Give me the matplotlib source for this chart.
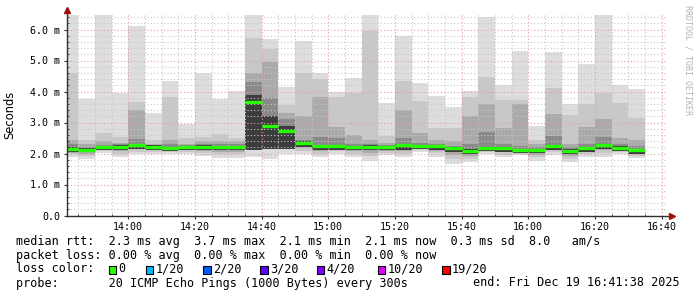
import matplotlib
matplotlib.use('Agg')
import matplotlib.pyplot as plt
import matplotlib.dates as mdates
import numpy as np
import pandas as pd
from matplotlib.patches import Rectangle

# 5 minute smokeping rounds, 13:40 .. 16:30
bar_start = pd.date_range('2025-12-19 13:40', periods=35, freq='5min')

# values in ms
hi = [6.47, 3.77, 6.47, 3.96, 6.11, 3.30, 4.35, 2.94, 4.59, 3.77, 4.03, 6.47, 5.69, 4.14, 5.63, 4.59, 3.99, 4.42,
      6.47, 3.62, 5.79, 4.29, 3.86, 3.51, 4.03, 6.39, 4.20, 5.32, 2.89, 5.29, 3.59, 4.88, 6.47, 4.20, 4.07]
u1 = [4.59, 2.44, 2.65, 2.54, 3.66, 2.42, 3.83, 2.49, 2.54, 2.63, 2.49, 5.71, 5.36, 3.57, 4.59, 4.39, 3.81, 3.96,
      5.96, 2.56, 4.35, 3.70, 2.81, 2.81, 3.81, 4.46, 3.74, 3.72, 2.44, 4.10, 3.24, 3.59, 3.94, 3.64, 3.13]
u2 = [2.44, 2.30, 2.40, 2.35, 3.40, 2.32, 2.45, 2.30, 2.40, 2.40, 2.40, 4.59, 4.96, 3.30, 3.21, 3.81, 2.84, 2.60,
      2.44, 2.35, 3.40, 2.65, 2.45, 2.40, 3.21, 3.59, 2.81, 3.59, 2.30, 3.27, 2.30, 2.84, 3.12, 2.49, 2.44]
u3 = [2.30, 2.20, 2.28, 2.30, 2.47, 2.26, 2.30, 2.26, 2.30, 2.30, 2.30, 4.32, 3.78, 3.10, 2.44, 2.54, 2.49, 2.30,
      2.30, 2.28, 2.50, 2.35, 2.30, 2.25, 2.30, 2.70, 2.30, 2.25, 2.20, 2.56, 2.20, 2.30, 2.54, 2.30, 2.25]
core_hi = [2.20, 2.17, 2.24, 2.27, 2.31, 2.26, 2.22, 2.24, 2.26, 2.24, 2.24, 3.90, 3.20, 2.90, 2.39, 2.28, 2.27, 2.24,
           2.26, 2.24, 2.30, 2.28, 2.28, 2.22, 2.14, 2.22, 2.21, 2.15, 2.15, 2.27, 2.13, 2.22, 2.32, 2.23, 2.14]
core_lo = [2.05, 2.05, 2.10, 2.12, 2.15, 2.12, 2.08, 2.10, 2.10, 2.10, 2.10, 2.10, 2.15, 2.15, 2.20, 2.12, 2.12, 2.10,
           2.10, 2.10, 2.12, 2.14, 2.12, 2.06, 1.98, 2.08, 2.06, 2.02, 2.02, 2.10, 1.98, 2.06, 2.14, 2.08, 2.00]
med = [2.14, 2.12, 2.20, 2.22, 2.26, 2.22, 2.17, 2.20, 2.21, 2.20, 2.20, 3.65, 2.89, 2.72, 2.35, 2.23, 2.23, 2.20,
       2.22, 2.20, 2.26, 2.24, 2.24, 2.18, 2.09, 2.18, 2.17, 2.11, 2.11, 2.23, 2.09, 2.18, 2.28, 2.19, 2.10]
lo = [1.90, 1.82, 2.01, 1.90, 1.98, 1.98, 1.98, 1.98, 1.93, 1.87, 1.87, 1.90, 1.81, 2.00, 1.98, 1.88, 2.00, 1.90,
      1.77, 1.95, 1.88, 2.06, 1.90, 1.66, 1.73, 2.00, 1.88, 1.95, 1.77, 1.95, 1.73, 1.90, 1.90, 1.98, 1.84]

yticks = [0, 1, 2, 3, 4, 5, 6]
ytick_labels = ['0.0', '1.0 m', '2.0 m', '3.0 m', '4.0 m', '5.0 m', '6.0 m']
xtick_labels = ['14:00', '14:20', '14:40', '15:00', '15:20', '15:40', '16:00', '16:20', '16:40']

loss_labels = ['0', '1/20', '2/20', '3/20', '4/20', '10/20', '19/20']
loss_colors = ['#26ff00', '#00b8ff', '#0059ff', '#5e00ff', '#7e00ff', '#dd00ff', '#ff0000']

W, H = 697, 297
mono = 'DejaVu Sans Mono'

fig = plt.figure(figsize=(W / 100, H / 100), dpi=100)
fig.patch.set_facecolor('white')
ax = fig.add_axes([67 / W, (H - 215.5) / H, 600 / W, 201.5 / H])

x = mdates.date2num(bar_start)
w = 5 / 1440
lo_a, med_a = np.array(lo), np.array(med)

# smoke, light outside -> dark near the median
ax.bar(x, np.array(hi) - lo_a, bottom=lo_a, width=w, align='edge', color='#dddddd', zorder=1)
for top, frac, col in [(u1, 0.3, '#c8c8c8'), (u2, 0.55, '#aaaaaa'), (u3, 0.75, '#8a8a8a')]:
    b = lo_a + (med_a - lo_a) * frac
    ax.bar(x, np.array(top) - b, bottom=b, width=w, align='edge', color=col, zorder=1)
ax.bar(x, np.array(core_hi) - np.array(core_lo), bottom=core_lo, width=w, align='edge',
       color='#3c3c3c', zorder=1)

# median rtt, coloured by loss (all 0)
for xi, m in zip(x, med):
    ax.plot([xi, xi + w], [m, m], color='#26ff00', lw=2.4, solid_capstyle='butt', zorder=4)

t0 = mdates.date2num(pd.Timestamp('2025-12-19 13:41:38'))
t1 = mdates.date2num(pd.Timestamp('2025-12-19 16:41:38'))
ax.set_xlim(t0, t1)
ax.set_ylim(0, 6.5)

major_x = mdates.date2num(pd.to_datetime(['2025-12-19 ' + s for s in xtick_labels]))
ax.set_xticks(major_x)
ax.set_xticklabels(xtick_labels, family=mono, fontsize=7.2)
ax.xaxis.set_minor_locator(mdates.MinuteLocator(byminute=range(0, 60, 5)))
ax.set_yticks(yticks)
ax.set_yticklabels(ytick_labels, family=mono, fontsize=7.2)
ax.set_yticks(np.arange(0, 6.6, 0.2), minor=True)

ax.grid(which='minor', color='#c8c8c8', ls=(0, (1, 2)), lw=0.8, zorder=3)
ax.grid(which='major', color='#e0a0a0', ls=(0, (1, 2)), lw=0.8, zorder=3)
ax.set_axisbelow(False)
ax.tick_params(which='major', direction='out', length=2.5, width=0.8, color='#303030', pad=2.5, labelcolor='black')
ax.tick_params(which='minor', direction='in', length=1.5, width=0.6, color='#303030')
ax.tick_params(axis='x', pad=2.5)

for s in ax.spines.values():
    s.set_visible(False)
ax.plot([0, 0], [0, 1.02], transform=ax.transAxes, color='#303030', lw=1, clip_on=False, zorder=5)
ax.plot([0, 1.008], [0, 0], transform=ax.transAxes, color='#303030', lw=1, clip_on=False, zorder=5)
ax.plot([0], [1.02], marker='^', ms=4, color='#a01010', transform=ax.transAxes, clip_on=False, zorder=6)
ax.plot([1.008], [0], marker='>', ms=4, color='#a01010', transform=ax.transAxes, clip_on=False, zorder=6)

ax.set_ylabel('Seconds', fontsize=8.3)
ax.yaxis.set_label_coords(-(67 - 16) / 600, 0.5)

fig.text(688 / W, 1 - 5 / H, 'RRDTOOL / TOBI OETIKER', rotation=-90, ha='center', va='top',
         family=mono, fontsize=6, color='#b4b4b4')

def fy(y):
    return 1 - y / H

rows = [
    'median rtt:  2.3 ms avg  3.7 ms max  2.1 ms min  2.1 ms now  0.3 ms sd  8.0   am/s',
    'packet loss: 0.00 % avg  0.00 % max  0.00 % min  0.00 % now',
    'loss color:',
    'probe:       20 ICMP Echo Pings (1000 Bytes) every 300s',
]
for i, r in enumerate(rows):
    fig.text(16 / W, fy(241 + 14 * i), r, family=mono, fontsize=8.5, va='center', ha='left')

box_x = [108.7, 145.7, 203, 260, 316.7, 377.7, 442]
for bx, lab, col in zip(box_x, loss_labels, loss_colors):
    fig.add_artist(Rectangle((bx / W, fy(274)), 7.5 / W, 8 / H, transform=fig.transFigure,
                             facecolor=col, edgecolor='black', lw=0.8))
    fig.text((bx + 10) / W, fy(269), lab, family=mono, fontsize=8.5, va='center', ha='left')

fig.text(680 / W, fy(283), 'end: Fri Dec 19 16:41:38 2025', family=mono, fontsize=8.5, va='center', ha='right')

fig.savefig('out.png', dpi=100, facecolor='white')
